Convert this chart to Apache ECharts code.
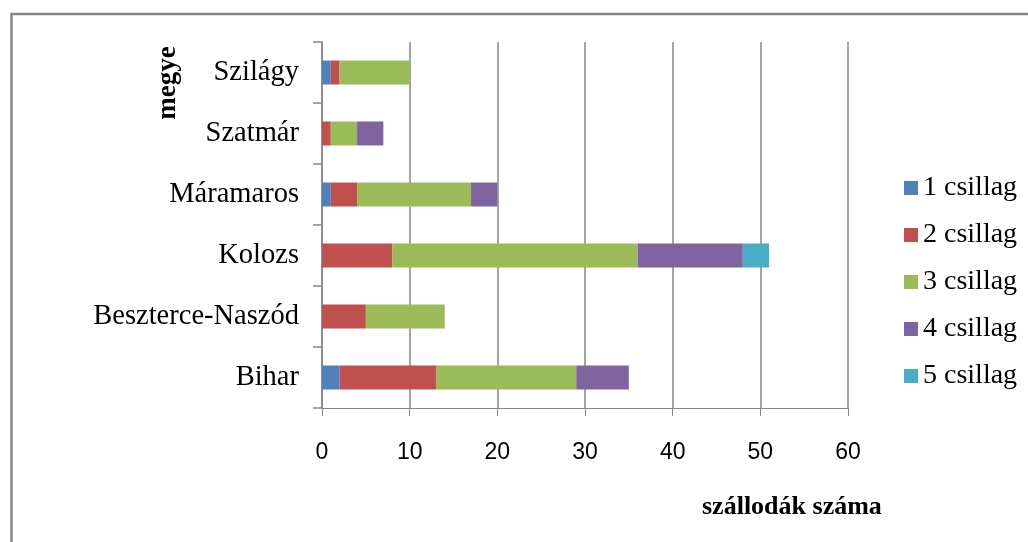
<!DOCTYPE html>
<html>
<head>
<meta charset="utf-8">
<script src="https://cdn.jsdelivr.net/npm/echarts@6/dist/echarts.min.js"></script>
<style>
html,body{margin:0;padding:0;background:#fff;overflow:hidden;}
#chart{width:1028px;height:542px;}
</style>
</head>
<body>
<div id="chart"></div>
<script>
const categories = ['Bihar', 'Beszterce-Naszód', 'Kolozs', 'Máramaros', 'Szatmár', 'Szilágy'];
const seriesNames = ['1 csillag', '2 csillag', '3 csillag', '4 csillag', '5 csillag'];
const star1 = [2, 0, 0, 1, 0, 1];
const star2 = [11, 5, 8, 3, 1, 1];
const star3 = [16, 9, 28, 13, 3, 8];
const star4 = [6, 0, 12, 3, 3, 0];
const star5 = [0, 0, 3, 0, 0, 0];
const xTitle = 'szállodák száma';
const yTitle = 'megye';

const colors = ['#4F81BD', '#C0504D', '#9BBB59', '#8064A2', '#4BACC6'];
const allData = [star1, star2, star3, star4, star5];
const axisGray = '#868686';
const serif = '"Liberation Serif", "Times New Roman", serif';

const chart = echarts.init(document.getElementById('chart'));
chart.setOption({
  animation: false,
  backgroundColor: '#fff',
  color: colors,
  grid: { left: 322, right: 180, top: 42, bottom: 134, containLabel: false },
  legend: {
    orient: 'vertical',
    left: 899,
    top: 169,
    padding: 5,
    itemWidth: 14,
    itemHeight: 14,
    itemGap: 19,
    icon: 'rect',
    data: seriesNames,
    textStyle: { fontFamily: serif, fontSize: 28, color: '#000', lineHeight: 28 }
  },
  xAxis: {
    type: 'value',
    min: 0, max: 60, interval: 10,
    axisLine: { show: true, lineStyle: { color: axisGray, width: 1 } },
    axisTick: { show: true, length: 8, lineStyle: { color: axisGray } },
    splitLine: { show: true, lineStyle: { color: axisGray, width: 1.5 } },
    axisLabel: { margin: 33, fontFamily: '"Liberation Sans", Arial, sans-serif', fontSize: 23, color: '#000' }
  },
  yAxis: {
    type: 'category',
    data: categories,
    axisLine: { show: true, lineStyle: { color: axisGray, width: 1.5 } },
    axisTick: { show: true, length: 9, lineStyle: { color: axisGray, width: 1.5 } },
    axisLabel: { margin: 23, fontFamily: serif, fontSize: 28.5, color: '#000', padding: [6, 0, 0, 0] }
  },
  series: seriesNames.map((n, i) => ({
    name: n,
    type: 'bar',
    stack: 'total',
    barWidth: 24,
    data: allData[i],
    itemStyle: { color: colors[i] }
  })),
  graphic: [
    {
      type: 'rect',
      shape: { x: 11.5, y: 14, width: 3000, height: 3000 },
      style: { fill: 'none', stroke: '#888', lineWidth: 2.5 },
      silent: true
    },
    {
      type: 'text',
      left: 702, top: 494,
      style: { text: xTitle, font: 'bold 26px ' + serif, fill: '#000' }
    },
    {
      type: 'text',
      x: 168, y: 83,
      rotation: Math.PI / 2,
      style: { text: yTitle, font: 'bold 27px ' + serif, fill: '#000', align: 'center', verticalAlign: 'middle' }
    }
  ]
});
</script>
</body>
</html>
